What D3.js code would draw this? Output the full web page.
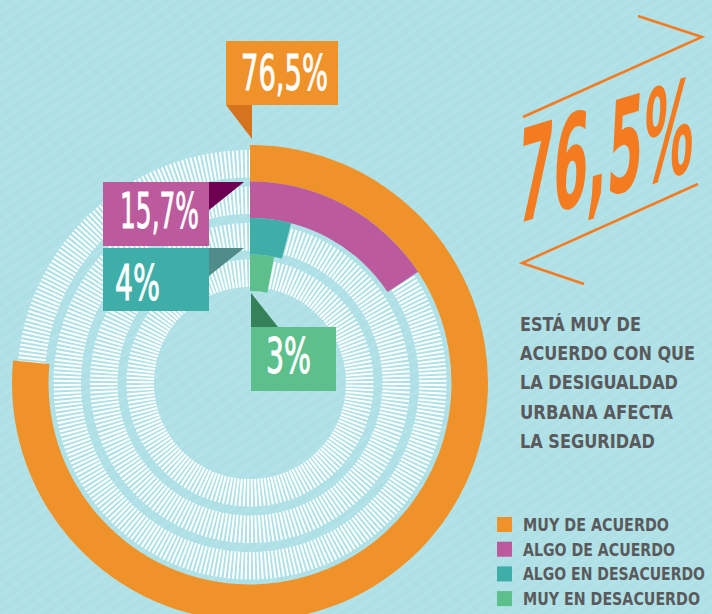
<!DOCTYPE html>
<html>
<head>
<meta charset="utf-8">
<script src="https://cdn.jsdelivr.net/npm/d3@7/dist/d3.min.js"></script>
<style>
html, body { margin: 0; padding: 0; background: #aee0e6; }
svg { display: block; }
</style>
</head>
<body>
<script>
// data
var categories = ['MUY DE ACUERDO', 'ALGO DE ACUERDO', 'ALGO EN DESACUERDO', 'MUY EN DESACUERDO']
var values = [76.5, 15.7, 4, 3]
var valueLabels = ['76,5%', '15,7%', '4%', '3%']
var colors = ['#f0922a', '#bb5a9c', '#3fada8', '#5cbf8c']
var darkColors = ['#d5731f', '#6d0050', '#4f8c8a', '#358159']
var headline = '76,5%'
var noteLines = ['ESTÁ MUY DE', 'ACUERDO CON QUE', 'LA DESIGUALDAD', 'URBANA AFECTA', 'LA SEGURIDAD']

var width = 712, height = 614
var cx = 250, cy = 383
var condensed = '"Liberation Sans Narrow", "DejaVu Sans Condensed", "Roboto", sans-serif'

var svg = d3.select('body').append('svg')
	.attr('width', width)
	.attr('height', height)

// background texture
var defs = svg.append('defs')
var pat = defs.append('pattern')
	.attr('id', 'weave')
	.attr('width', 9).attr('height', 9)
	.attr('patternUnits', 'userSpaceOnUse')
	.attr('patternTransform', 'rotate(-35)')
pat.append('rect').attr('width', 9).attr('height', 9).attr('fill', '#aee0e6')
pat.append('rect').attr('width', 9).attr('height', 3).attr('fill', '#b3e3e9')

svg.append('rect')
	.attr('width', width).attr('height', height)
	.attr('fill', 'url(#weave)')

// scales
var angle = d3.scaleLinear().domain([0, 100]).range([0, 2 * Math.PI])
var radius = d3.scaleBand().domain(categories).range([238, 92]).padding(0)
var bw = radius.bandwidth()

var chart = svg.append('g').attr('transform', 'translate(' + cx + ',' + cy + ')')

// striped tracks
var stripeCounts = [340, 290, 235, 185]
categories.forEach(function(c, i){
	var r0 = radius(c) + 4, r1 = radius(c) + bw - 5
	var n = stripeCounts[i]
	chart.append('g').selectAll('line')
		.data(d3.range(n)).enter().append('line')
		.attr('x1', function(k){ return r0 * Math.sin(k / n * 2 * Math.PI) })
		.attr('y1', function(k){ return -r0 * Math.cos(k / n * 2 * Math.PI) })
		.attr('x2', function(k){ return r1 * Math.sin(k / n * 2 * Math.PI) })
		.attr('y2', function(k){ return -r1 * Math.cos(k / n * 2 * Math.PI) })
		.attr('stroke', '#ffffff')
		.attr('stroke-width', 2)
})

// bars
var arc = d3.arc()
	.innerRadius(function(d){ return radius(d.cat) })
	.outerRadius(function(d){ return radius(d.cat) + bw })
	.startAngle(0)
	.endAngle(function(d){ return angle(d.value) })

chart.selectAll('.bar')
	.data(categories.map(function(c, i){ return {cat: c, value: values[i], i: i} }))
	.enter().append('path')
	.attr('class', 'bar')
	.attr('d', arc)
	.attr('fill', function(d){ return colors[d.i] })

// callouts: box + pointer triangle
var callouts = [
	{box: [226, 41, 112, 64], tri: [[226, 105], [252, 105], [252, 139]], tx: 241, ty: 90, tl: 87},
	{box: [103, 182, 106, 64], tri: [[209, 182], [244, 182], [209, 210]], tx: 120, ty: 228, tl: 79},
	{box: [103, 248, 106, 63], tri: [[209, 248], [244, 248], [209, 276]], tx: 115, ty: 300, tl: 45},
	{box: [251, 327, 85, 64], tri: [[251, 293], [251, 327], [278, 327]], tx: 266, ty: 373, tl: 45}
]

callouts.forEach(function(c, i){
	svg.append('path')
		.attr('d', d3.line()(c.tri) + 'Z')
		.attr('fill', darkColors[i])
	svg.append('rect')
		.attr('x', c.box[0]).attr('y', c.box[1])
		.attr('width', c.box[2]).attr('height', c.box[3])
		.attr('fill', colors[i])
	svg.append('text')
		.attr('x', c.tx).attr('y', c.ty)
		.attr('font-family', condensed)
		.attr('font-size', 50)
		.attr('fill', '#ffffff')
		.attr('stroke', '#ffffff')
		.attr('stroke-width', 0.9)
		.attr('textLength', c.tl)
		.attr('lengthAdjust', 'spacingAndGlyphs')
		.text(valueLabels[i])
})

// headline on the right
var hl = '#f47b20'
svg.append('polyline')
	.attr('points', '638,16 702,37 523,117')
	.attr('fill', 'none').attr('stroke', hl).attr('stroke-width', 2.5)
svg.append('polyline')
	.attr('points', '698,184 522,263 584,284')
	.attr('fill', 'none').attr('stroke', hl).attr('stroke-width', 2.5)

svg.append('g')
	.attr('transform', 'translate(516,224) skewY(-17) skewX(-3)')
	.append('text')
	.attr('font-family', condensed)
	.attr('font-weight', 'bold')
	.attr('font-size', 128)
	.attr('fill', hl)
	.attr('textLength', 176)
	.attr('lengthAdjust', 'spacingAndGlyphs')
	.text(headline)

// note
var noteWidths = [121, 175, 158, 153, 135]
svg.append('g').selectAll('text')
	.data(noteLines).enter().append('text')
	.attr('x', 520)
	.attr('y', function(d, i){ return 331 + i * 29.2 })
	.attr('font-family', '"DejaVu Sans Condensed", "Liberation Sans Narrow", sans-serif')
	.attr('font-weight', 'bold')
	.attr('font-size', 19)
	.attr('fill', '#5a5a5c')
	.attr('textLength', function(d, i){ return noteWidths[i] })
	.attr('lengthAdjust', 'spacingAndGlyphs')
	.text(function(d){ return d })

// legend
var legWidths = [146, 152, 182, 177]
var leg = svg.append('g').selectAll('g')
	.data(categories).enter().append('g')
	.attr('transform', function(d, i){ return 'translate(497,' + (517 + i * 24.7) + ')' })
leg.append('rect')
	.attr('width', 15).attr('height', 15)
	.attr('fill', function(d, i){ return colors[i] })
leg.append('text')
	.attr('x', 26).attr('y', 14)
	.attr('font-family', '"DejaVu Sans Condensed", "Liberation Sans Narrow", sans-serif')
	.attr('font-weight', 'bold')
	.attr('font-size', 17)
	.attr('fill', '#5a5a5c')
	.attr('textLength', function(d, i){ return legWidths[i] })
	.attr('lengthAdjust', 'spacingAndGlyphs')
	.text(function(d){ return d })
</script>
</body>
</html>
